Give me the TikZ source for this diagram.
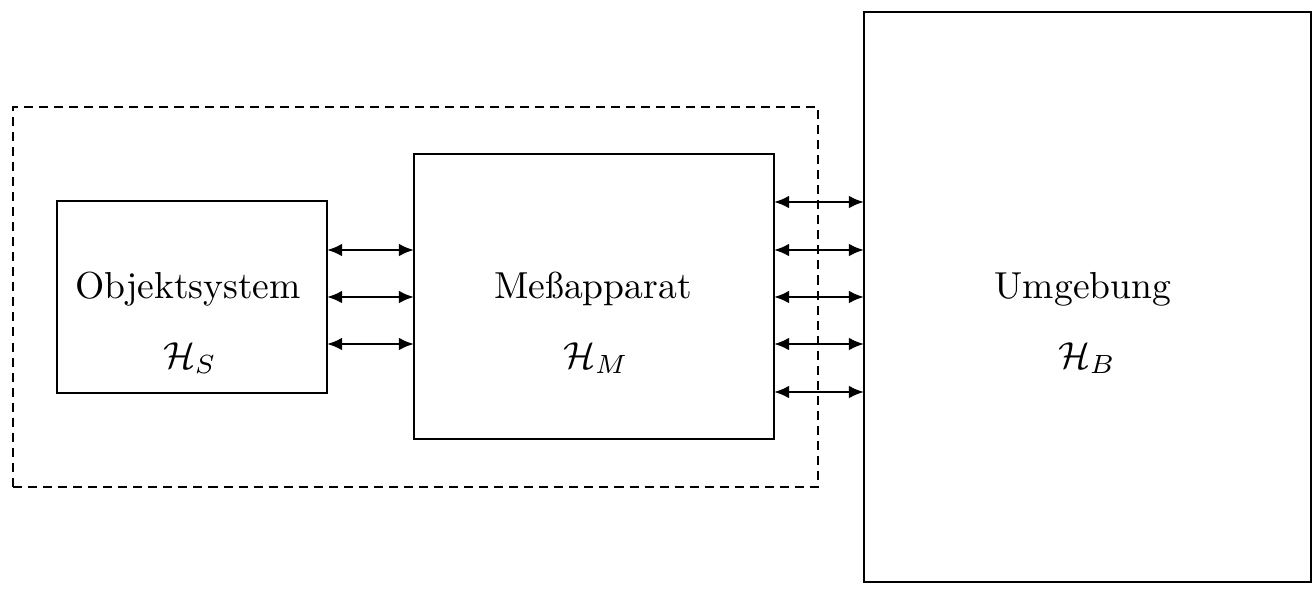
\documentclass[tikz,border=0pt]{standalone}
\usepackage{fontspec}
\usetikzlibrary{arrows.meta,fit}
\begin{document}
\begin{tikzpicture}[x=0.266pt,y=-0.266pt,
  box/.style={draw,line width=0.65pt,inner sep=0pt,outer sep=0pt},
  frame/.style={draw,line width=0.65pt,dash pattern=on 2.4pt off 1.6pt,inner sep=0pt,outer sep=0pt},
  label/.style={anchor=base,inner sep=0pt,font=\fontsize{10pt}{12pt}\selectfont},
  link/.style={line width=0.7pt,{Latex[length=4pt,width=3.4pt]}-{Latex[length=4pt,width=3.4pt]}}]
\useasboundingbox (0,0) rectangle (1314,588);

% dashed boundary around object and apparatus
\node[frame,fit={(13,107)(818,487)}] (F) {};

% the three systems
\node[box,fit={(57,201)(327,393)}] (S) {};
\node[box,fit={(414,154)(774,439)}] (M) {};
\node[box,fit={(864,12)(1311,582)}] (B) {};

% names and Hilbert spaces
\node[label] (St) at (188,298) {Objektsystem};
\node[label] (Sh) at (190,368) {$\mathcal{H}_S$};
\node[label] (Mt) at (593,298) {Meßapparat};
\node[label] (Mh) at (596,368) {$\mathcal{H}_M$};
\node[label] (Bt) at (1083,298) {Umgebung};
\node[label] (Bh) at (1087,368) {$\mathcal{H}_B$};

% levels of the couplings
\coordinate (y1) at (0,202);
\coordinate (y2) at (0,250);
\coordinate (y3) at (0,297);
\coordinate (y4) at (0,344);
\coordinate (y5) at (0,392);

% object <-> apparatus
\foreach \k in {2,3,4}
  \draw[link] (S.east |- y\k) -- (M.west |- y\k);

% apparatus <-> environment
\foreach \k in {1,2,3,4,5}
  \draw[link] (M.east |- y\k) -- (B.west |- y\k);
\end{tikzpicture}
\end{document}
